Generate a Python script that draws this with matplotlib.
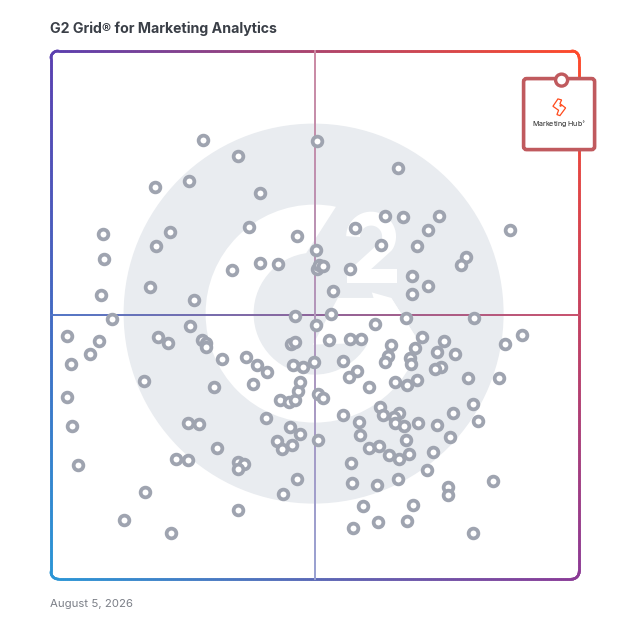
import numpy as np
import matplotlib
matplotlib.use("Agg")
import matplotlib.pyplot as plt
from matplotlib.collections import LineCollection
from matplotlib.colors import to_rgb
from matplotlib.patches import Circle, FancyBboxPatch, Polygon, Rectangle

# positions
satisfaction = [
    203, 317, 238, 398, 155, 189, 260, 385, 403, 439, 249, 355, 428, 510, 170, 156, 103, 297, 381, 417,
    316, 466, 461, 104, 260, 278, 232, 350, 317, 319, 323, 412, 428, 412, 333, 150, 101, 194,
    112, 295, 331, 406, 474, 375, 316, 190, 522, 67, 99, 90, 71, 158, 168, 202, 206, 206, 144, 67, 72, 78,
    188, 199, 176, 188, 214, 217, 222, 246, 257, 267, 253, 291, 295, 329, 293, 303, 314, 343,
    350, 361, 422, 444, 391, 415, 437, 455, 505, 388, 385, 410, 411, 357, 349, 441, 435, 395, 407, 417, 369, 468, 499,
    280, 289, 295, 298, 300, 318, 323, 266, 290, 300, 277, 282, 292, 318, 297, 283, 238, 244, 238,
    473, 380, 399, 383, 394, 395, 404, 418, 453, 437, 478, 343, 359, 360, 450, 406, 369, 379, 389, 399, 409, 433,
    351, 427, 398, 352, 377, 493, 448, 448, 363, 413, 378, 407, 353, 473, 145, 124, 238, 171,
]
presence = [
    140, 141, 156, 168, 187, 181, 193, 216, 217, 216, 227, 228, 230, 230, 232, 246, 234, 236, 245, 246,
    250, 257, 265, 259, 263, 264, 270, 269, 269, 265, 266, 276, 286, 294, 291, 287, 295, 300,
    319, 316, 314, 318, 318, 324, 325, 326, 335, 336, 341, 354, 364, 337, 343, 340, 343, 347, 381, 397, 426, 465,
    423, 424, 459, 460, 387, 448, 359, 357, 365, 372, 384, 344, 342, 340, 365, 367, 362, 361,
    339, 339, 337, 341, 345, 348, 352, 354, 344, 356, 362, 358, 364, 371, 377, 367, 369, 382, 385, 380, 387, 378, 378,
    400, 402, 400, 391, 382, 394, 398, 418, 427, 434, 441, 449, 445, 440, 479, 494, 462, 464, 469,
    404, 407, 413, 415, 417, 423, 426, 423, 413, 425, 421, 415, 422, 435, 437, 440, 448, 446, 455, 459, 454, 452,
    463, 470, 479, 483, 485, 481, 487, 495, 506, 505, 522, 521, 528, 533, 492, 520, 510, 533,
]

title_text = "G2 Grid® for Marketing Analytics"
date_text = "August 5, 2026"
product_name = "Marketing Hub"

WATERMARK = "#e9ecf0"
DOT = "#9fa4b0"
CARD = "#c05a5e"
corners = {k: np.array(to_rgb(v)) for k, v in
           {"tl": "#5a3fb0", "tr": "#ff4a2a", "br": "#8b3a96", "bl": "#2a96d6"}.items()}
LEFT, RIGHT, TOP, BOTTOM = 51.4, 579.4, 51.4, 579.4
MID = 315.4


def grid_color(x, y, fade=0.0):
    u = (x - LEFT) / (RIGHT - LEFT)
    v = (y - TOP) / (BOTTOM - TOP)
    c = ((1 - u) * (1 - v) * corners["tl"] + u * (1 - v) * corners["tr"]
         + u * v * corners["br"] + (1 - u) * v * corners["bl"])
    return c * (1 - fade) + fade


def gradient_line(ax, xs, ys, lw, fade=0.0, zorder=2):
    segs = [[(xs[i], ys[i]), (xs[i + 1], ys[i + 1])] for i in range(len(xs) - 1)]
    cols = [grid_color((xs[i] + xs[i + 1]) / 2, (ys[i] + ys[i + 1]) / 2, fade) for i in range(len(xs) - 1)]
    ax.add_collection(LineCollection(segs, colors=cols, linewidths=lw, capstyle="projecting", zorder=zorder))


def rounded_box(r=7):
    xs, ys = [], []
    arcs = [(RIGHT - r, TOP + r, -90), (RIGHT - r, BOTTOM - r, 0), (LEFT + r, BOTTOM - r, 90), (LEFT + r, TOP + r, 180)]
    for cx, cy, start in arcs:
        a = np.deg2rad(np.linspace(start, start + 90, 12))
        xs.append(cx + r * np.cos(a))
        ys.append(cy + r * np.sin(a))
    pts = np.column_stack([np.concatenate(xs), np.concatenate(ys)])
    pts = np.vstack([pts, pts[0]])
    out = [pts[0]]
    for p, q in zip(pts[:-1], pts[1:]):
        n = max(1, int(np.hypot(*(q - p)) / 2))
        for t in np.linspace(0, 1, n + 1)[1:]:
            out.append(p + (q - p) * t)
    out = np.array(out)
    return out[:, 0], out[:, 1]


def z(points):
    # offsets measured on the enlarged crop of the logo
    return [(110 + x / 3, 110 + y / 3) for x, y in points]


fig = plt.figure(figsize=(6.28, 6.28), dpi=100)
ax = fig.add_axes([0, 0, 1, 1])
ax.set_xlim(0.4, 628.4)
ax.set_ylim(628.4, 0.4)
ax.axis("off")

# G2 watermark
ax.add_patch(Circle((314, 314), 190, fc=WATERMARK, ec="none", zorder=1))
ax.add_patch(Circle((315, 314), 109, fc="white", ec="none", zorder=1.1))
ax.add_patch(Circle((315, 314), 61, fc=WATERMARK, ec="none", zorder=1.2))
ax.add_patch(Polygon(z([(680, 290), (590, 430), (615, 500), (845, 565), (930, 700), (1000, 700), (1000, 250), (700, 250)]),
                     fc=WATERMARK, ec="none", zorder=1.3))
ax.add_patch(Polygon(z([(685, 565), (845, 565), (930, 700), (850, 840), (770, 700), (610, 705)]),
                     fc="white", ec="none", zorder=1.4))
# the superscript 2, arc then diagonal then foot
t = np.deg2rad(np.linspace(180, 390, 30))
two_x = np.r_[371.5 + 18 * np.cos(t), 354]
two_y = np.r_[237 + 18 * np.sin(t), 276]
ax.plot(two_x, two_y, color="white", lw=10, solid_capstyle="butt", solid_joinstyle="round", zorder=1.5)
ax.add_patch(Rectangle((347, 269), 50, 14, fc="white", ec="none", zorder=1.5))

# frame and crosshair
bx, by = rounded_box()
gradient_line(ax, bx, by, 1.8)
hx = np.arange(LEFT, RIGHT + 1, 2.0)
gradient_line(ax, hx, np.full_like(hx, MID), 1.3, fade=0.08)
gradient_line(ax, np.full_like(hx, MID), hx, 1.4, fade=0.38)

# products
ax.plot(satisfaction, presence, "o", ms=7, mfc="white", mec=DOT, mew=2.7, zorder=3)

# highlighted card
ax.add_patch(FancyBboxPatch((524, 79), 71, 71, boxstyle="round,pad=0,rounding_size=3",
                            fc="white", ec=CARD, lw=2.6, zorder=4))
ax.add_patch(Circle((562, 80.5), 6, fc="white", ec=CARD, lw=2.4, zorder=5))
bolt = [(235, 178), (246, 181), (241, 192), (258, 205), (241, 228), (232, 225), (237, 212), (220, 200)]
ax.add_patch(Polygon([(480 + x / 3, 40 + y / 3) for x, y in bolt], fc="none", ec="#ff4a1c", lw=0.9, zorder=5))
ax.add_patch(Circle((561, 106), 1.2, fc="#ff4a1c", ec="none", zorder=5))
ax.text(559, 125, product_name + "$^{\\circ}$", fontsize=5.1, family="Inter", color="#222222",
        ha="center", va="center", zorder=5)

ax.text(50, 29.5, title_text, fontsize=10.2, fontweight="bold", family="Inter", color="#3a3f47",
        ha="left", va="center")
ax.text(50, 604.5, date_text, fontsize=8.2, family="Inter", color="#7b7f87", ha="left", va="center")

fig.savefig("out.png", dpi=100)
